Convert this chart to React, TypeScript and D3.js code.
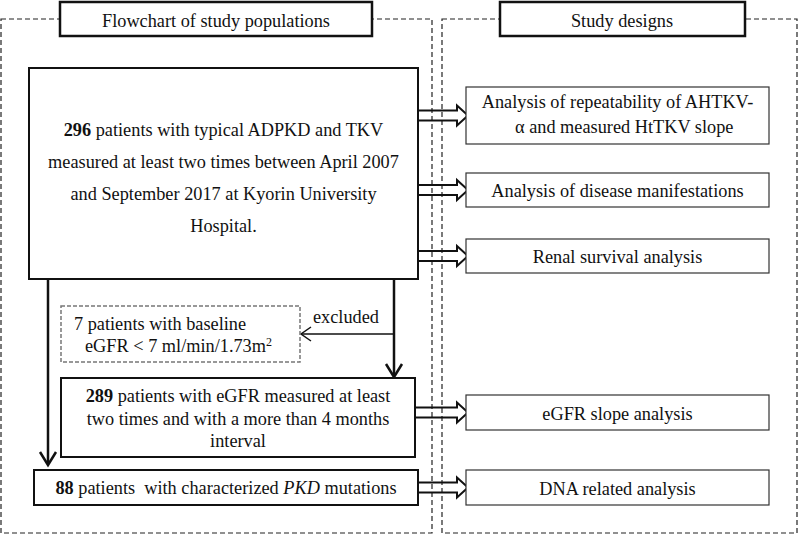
import React from "react";
import * as d3 from "d3";

const W = 798;
const H = 534;
const FONT = "'Liberation Serif', 'Times New Roman', Times, serif";

const panelTitles = ["Flowchart of study populations", "Study designs"];
const mainLines = [
  [{ t: "296", b: true }, { t: " patients with typical ADPKD and TKV" }],
  [{ t: "measured at least two times between April 2007" }],
  [{ t: "and September 2017 at Kyorin University" }],
  [{ t: "Hospital." }],
];
const excludedLines = ["7 patients with baseline", "eGFR < 7 ml/min/1.73m"];
const excludedLabel = "excluded";
const egfrLines = [
  [{ t: "289", b: true }, { t: " patients with eGFR measured at least" }],
  [{ t: "two times and with a more than 4 months" }],
  [{ t: "interval" }],
];
const dnaLine = [
  { t: "88", b: true },
  { t: " patients\u00a0 with characterized " },
  { t: "PKD", i: true },
  { t: " mutations" },
];
const designs = [
  ["Analysis of repeatability of AHTKV-", "\u03b1 and measured HtTKV slope"],
  ["Analysis of disease manifestations"],
  ["Renal survival analysis"],
  ["eGFR slope analysis"],
  ["DNA related analysis"],
];

type Seg = { t: string; b?: boolean; i?: boolean };

const txtStyle = { fontFamily: FONT, fontSize: "18.3px" };

function Line({ segs, x, y, anchor = "middle" }: { segs: Seg[]; x: number; y: number; anchor?: string }) {
  return (
    <text x={x} y={y} textAnchor={anchor} style={txtStyle} fill="#111">
      {segs.map((s, k) => (
        <tspan key={k} fontWeight={s.b ? "bold" : undefined} fontStyle={s.i ? "italic" : undefined}>
          {s.t}
        </tspan>
      ))}
    </text>
  );
}

function hollowArrow(x0: number, tip: number, cy: number) {
  const xb = tip - 11;
  const line = d3.line();
  return line([
    [x0, cy - 5],
    [xb, cy - 5],
    [xb, cy - 10],
    [tip, cy],
    [xb, cy + 10],
    [xb, cy + 5],
    [x0, cy + 5],
  ]) as string;
}

export default function App() {
  const line = d3.line();
  const dBoxes = [
    { y0: 87, y1: 144 },
    { y0: 173, y1: 207 },
    { y0: 239, y1: 273 },
    { y0: 395, y1: 430 },
    { y0: 470, y1: 505 },
  ];
  const dx0 = 466,
    dx1 = 769;
  const arrowFrom = [418, 418, 418, 415, 418];

  return (
    <div style={{ position: "absolute", left: 0, top: 0, width: W, height: H, fontFamily: FONT }}>
      <svg width={W} height={H} style={{ display: "block", fontFamily: FONT }}>
        <rect width={W} height={H} fill="#fff" />
        <rect x={1} y={19} width={431} height={514} fill="none" stroke="#222" strokeWidth={1.2} strokeDasharray="5 3" />
        <rect x={442} y={19} width={355} height={514} fill="none" stroke="#222" strokeWidth={1.2} strokeDasharray="5 3" />

        {dBoxes.map((b, k) => (
          <path key={k} d={hollowArrow(arrowFrom[k], 468, (b.y0 + b.y1) / 2)} fill="none" stroke="#111" strokeWidth={2} />
        ))}

        <rect x={60} y={2} width={312} height={34} fill="#fff" stroke="#111" strokeWidth={2.5} />
        <Line segs={[{ t: panelTitles[0] }]} x={216} y={26.5} />
        <rect x={500} y={2} width={245} height={34} fill="#fff" stroke="#111" strokeWidth={2.5} />
        <Line segs={[{ t: panelTitles[1] }]} x={622} y={26.5} />

        <rect x={29} y={68} width={389} height={211} fill="#fff" stroke="#111" strokeWidth={2} />
        {mainLines.map((segs, k) => (
          <Line key={k} segs={segs} x={223.5} y={136 + k * 31.9} />
        ))}

        <path d={line([[48, 279], [48, 464]]) as string} stroke="#111" strokeWidth={2.5} fill="none" />
        <path d={line([[40, 452], [48, 465], [56, 452]]) as string} stroke="#111" strokeWidth={2.5} fill="none" />
        <path d={line([[394, 279], [394, 376]]) as string} stroke="#111" strokeWidth={2.5} fill="none" />
        <path d={line([[386, 364], [394, 377], [402, 364]]) as string} stroke="#111" strokeWidth={2.5} fill="none" />
        <path d={line([[394, 334], [301, 334]]) as string} stroke="#111" strokeWidth={1.5} fill="none" />
        <path d={line([[311, 327], [301, 334], [311, 341]]) as string} stroke="#111" strokeWidth={1.5} fill="none" />
        <text x={313} y={322.5} style={txtStyle} fill="#111">
          {excludedLabel}
        </text>

        <rect x={61} y={306} width={239} height={56} fill="#fff" stroke="#777" strokeWidth={1.5} strokeDasharray="4 2" />
        <text x={74} y={330} style={txtStyle} fill="#111">
          {excludedLines[0]}
        </text>
        <text x={85} y={352} style={txtStyle} fill="#111">
          {excludedLines[1]}
          <tspan style={{ fontSize: "12px" }} dy={-6}>
            2
          </tspan>
        </text>

        <rect x={61} y={378} width={354} height={79} fill="#fff" stroke="#111" strokeWidth={2} />
        {egfrLines.map((segs, k) => (
          <Line key={k} segs={segs} x={238} y={402 + k * 22.5} />
        ))}

        <rect x={34} y={470} width={384} height={35} fill="#fff" stroke="#111" strokeWidth={2} />
        <Line segs={dnaLine} x={226} y={493.5} />

        {dBoxes.map((b, k) => (
          <g key={k}>
            <rect x={dx0} y={b.y0} width={dx1 - dx0} height={b.y1 - b.y0} fill="#fff" stroke="#333" strokeWidth={1.2} />
            {designs[k].length === 1 ? (
              <Line segs={[{ t: designs[k][0] }]} x={617.5} y={(b.y0 + b.y1) / 2 + 7} />
            ) : (
              <>
                <Line segs={[{ t: designs[k][0] }]} x={617.5} y={107.5} />
                <Line segs={[{ t: designs[k][1] }]} x={515} y={133} anchor="start" />
              </>
            )}
          </g>
        ))}
      </svg>
    </div>
  );
}
